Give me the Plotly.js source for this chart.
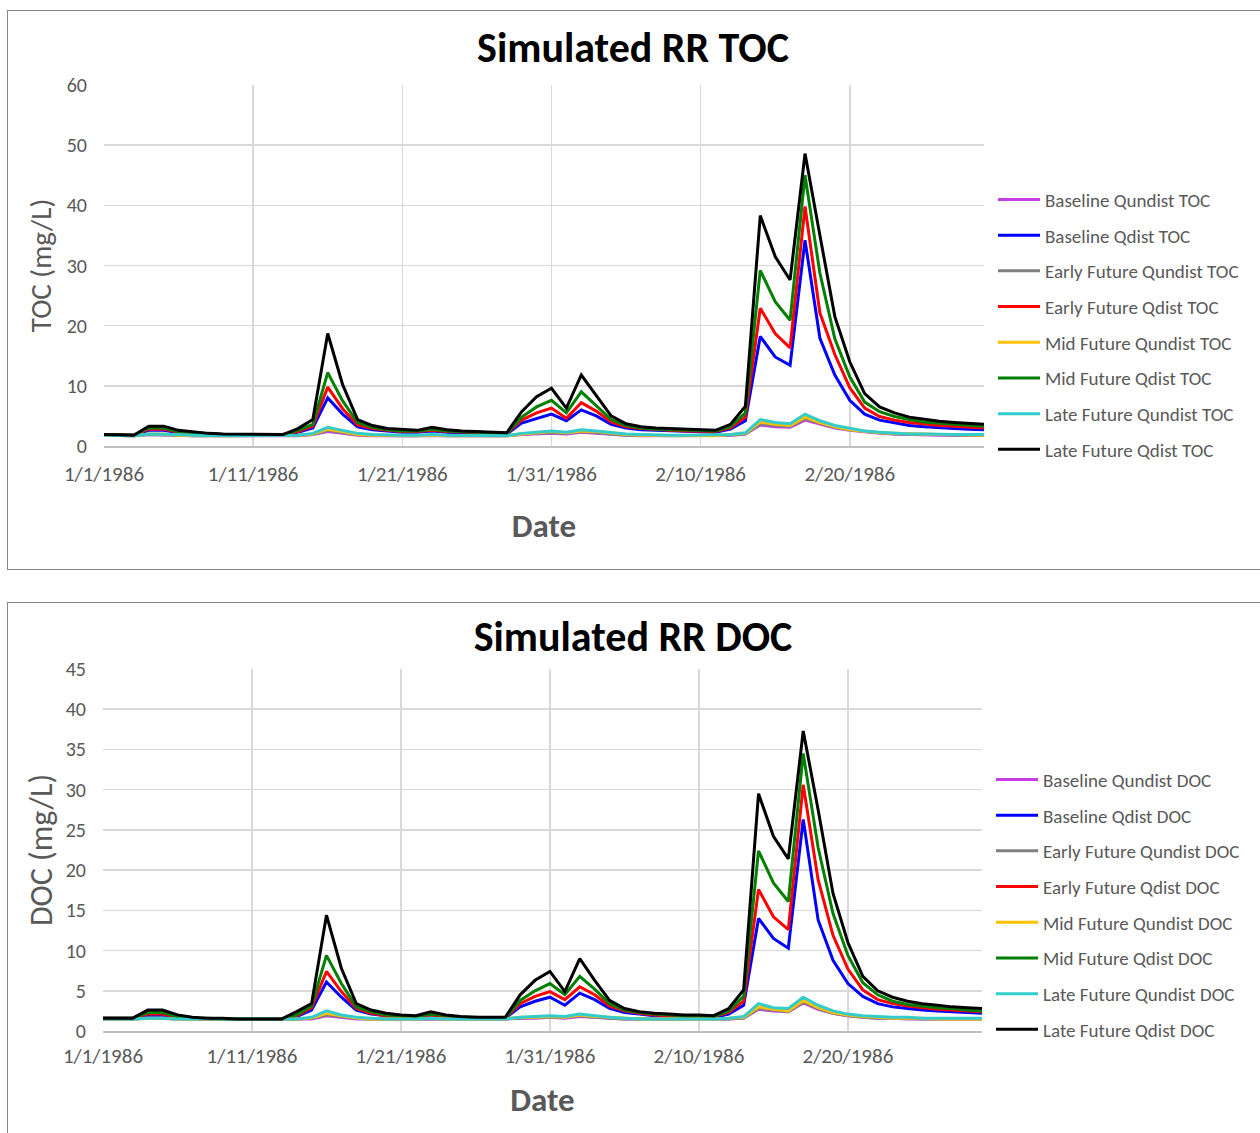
<!DOCTYPE html>
<html>
<head>
<meta charset="utf-8">
<script src="https://cdn.plot.ly/plotly-3.0.1.min.js"></script>
<style>
html,body{margin:0;padding:0;background:#fff;overflow:hidden;width:1260px;height:1133px;}
.box{position:absolute;left:7px;border:1px solid #878787;background:#fff;}
#boxTOC{top:10px;width:1262px;height:558px;}
#boxDOC{top:602px;width:1262px;height:540px;}
.plot{position:absolute;left:0;top:0;}
</style>
</head>
<body>
<div id="boxTOC" class="box"><div id="toc" class="plot"></div></div>
<div id="boxDOC" class="box"><div id="doc" class="plot"></div></div>
<script>
const dates = ["1986-01-01","1986-01-02","1986-01-03","1986-01-04","1986-01-05","1986-01-06","1986-01-07","1986-01-08","1986-01-09","1986-01-10",
"1986-01-11","1986-01-12","1986-01-13","1986-01-14","1986-01-15","1986-01-16","1986-01-17","1986-01-18","1986-01-19","1986-01-20",
"1986-01-21","1986-01-22","1986-01-23","1986-01-24","1986-01-25","1986-01-26","1986-01-27","1986-01-28","1986-01-29","1986-01-30",
"1986-01-31","1986-02-01","1986-02-02","1986-02-03","1986-02-04","1986-02-05","1986-02-06","1986-02-07","1986-02-08","1986-02-09",
"1986-02-10","1986-02-11","1986-02-12","1986-02-13","1986-02-14","1986-02-15","1986-02-16","1986-02-17","1986-02-18","1986-02-19",
"1986-02-20","1986-02-21","1986-02-22","1986-02-23","1986-02-24","1986-02-25","1986-02-26","1986-02-27","1986-02-28","1986-03-01"];

const scenarioNames = ["Baseline Qundist","Baseline Qdist","Early Future Qundist","Early Future Qdist","Mid Future Qundist","Mid Future Qdist","Late Future Qundist","Late Future Qdist"];
const seriesColors = ["#C83CE6","#0000FF","#808080","#FF0000","#FFC000","#008000","#33CCCC","#000000"];

// TOC (mg/L)
const tocBaselineQundist = [1.8,1.7,1.7,1.9,1.9,1.8,1.7,1.7,1.7,1.7,1.7,1.7,1.7,1.7,1.9,2.4,2.1,1.8,1.7,1.7,1.7,1.7,1.8,1.7,1.7,1.7,1.7,1.7,1.9,2.0,2.1,2.0,2.3,2.1,1.9,1.8,1.7,1.7,1.7,1.7,1.7,1.7,1.8,2.0,3.5,3.2,3.1,4.3,3.6,3.0,2.6,2.3,2.1,2.0,1.9,1.9,1.8,1.8,1.8,1.8];
const tocBaselineQdist = [1.9,1.8,1.8,2.6,2.6,2.2,2.0,1.9,1.9,1.9,1.9,1.9,1.9,2.3,3.0,8.0,5.3,3.2,2.7,2.5,2.3,2.3,2.5,2.3,2.2,2.1,2.1,2.0,3.8,4.6,5.3,4.2,6.0,5.0,3.6,3.0,2.7,2.6,2.5,2.4,2.3,2.3,2.8,4.2,18.2,14.8,13.4,34.2,17.9,11.8,7.6,5.3,4.3,3.8,3.4,3.2,3.0,2.9,2.8,2.7];
const tocEarlyQundist = [1.8,1.7,1.7,1.9,1.9,1.8,1.7,1.7,1.7,1.7,1.7,1.7,1.7,1.8,1.9,2.6,2.2,1.9,1.8,1.7,1.7,1.7,1.8,1.7,1.7,1.7,1.7,1.7,2.0,2.1,2.2,2.1,2.4,2.2,2.0,1.8,1.8,1.7,1.7,1.7,1.7,1.7,1.8,2.0,3.7,3.4,3.3,4.5,3.8,3.1,2.7,2.4,2.2,2.0,2.0,1.9,1.9,1.8,1.8,1.8];
const tocEarlyQdist = [1.9,1.8,1.8,2.8,2.8,2.3,2.1,2.0,1.9,1.9,1.9,1.9,1.9,2.4,3.3,9.8,6.2,3.5,2.9,2.6,2.4,2.4,2.6,2.4,2.3,2.2,2.1,2.1,4.3,5.5,6.3,4.6,7.2,5.8,4.0,3.2,2.9,2.7,2.6,2.5,2.4,2.4,3.0,4.8,22.9,18.7,16.3,39.8,22.1,15.2,9.7,6.3,4.9,4.3,3.9,3.6,3.4,3.3,3.1,3.0];
const tocMidQundist = [1.8,1.7,1.7,2.0,2.0,1.8,1.7,1.7,1.7,1.7,1.7,1.7,1.7,1.8,2.0,2.8,2.4,1.9,1.8,1.8,1.7,1.7,1.8,1.8,1.7,1.7,1.7,1.7,2.0,2.2,2.4,2.2,2.5,2.4,2.1,1.9,1.8,1.8,1.7,1.7,1.7,1.7,1.9,2.1,4.0,3.6,3.4,4.8,3.9,3.2,2.7,2.4,2.2,2.1,2.0,1.9,1.9,1.9,1.8,1.8];
const tocMidQdist = [1.9,1.8,1.8,3.0,3.0,2.4,2.2,2.0,1.9,1.9,1.9,1.9,1.9,2.6,3.6,12.2,7.5,3.9,3.1,2.7,2.5,2.5,2.8,2.5,2.4,2.3,2.2,2.1,4.8,6.5,7.6,5.5,9.0,6.7,4.4,3.4,3.0,2.8,2.7,2.6,2.5,2.5,3.2,5.5,29.2,24.0,20.9,45.0,28.7,17.8,11.5,7.3,5.7,4.9,4.4,4.0,3.8,3.6,3.4,3.3];
const tocLateQundist = [1.8,1.7,1.7,2.0,2.0,1.9,1.8,1.7,1.7,1.7,1.7,1.7,1.7,1.8,2.1,3.1,2.6,2.1,1.9,1.8,1.8,1.8,1.9,1.8,1.8,1.7,1.7,1.7,2.1,2.3,2.5,2.3,2.7,2.5,2.2,2.0,1.9,1.8,1.8,1.8,1.8,1.8,1.9,2.2,4.4,3.9,3.7,5.3,4.2,3.4,2.9,2.5,2.3,2.1,2.0,2.0,1.9,1.9,1.9,1.9];
const tocLateQdist = [1.9,1.8,1.8,3.3,3.3,2.6,2.3,2.1,2.0,2.0,1.9,1.9,1.9,2.9,4.4,18.7,10.2,4.4,3.4,2.9,2.7,2.6,3.1,2.7,2.5,2.4,2.3,2.2,5.7,8.2,9.6,6.3,11.8,8.3,5.0,3.7,3.2,3.0,2.9,2.8,2.7,2.6,3.6,6.6,38.3,31.5,27.6,48.6,35.0,21.5,14.0,8.7,6.5,5.5,4.8,4.4,4.1,3.9,3.7,3.6];

// DOC (mg/L)
const docBaselineQundist = [1.5,1.5,1.5,1.6,1.6,1.5,1.5,1.5,1.5,1.5,1.5,1.5,1.5,1.5,1.5,1.9,1.7,1.5,1.5,1.5,1.5,1.5,1.5,1.5,1.5,1.5,1.5,1.5,1.6,1.6,1.7,1.6,1.8,1.7,1.6,1.5,1.5,1.5,1.5,1.5,1.5,1.5,1.5,1.6,2.7,2.5,2.4,3.5,2.7,2.2,1.9,1.7,1.6,1.6,1.5,1.5,1.5,1.5,1.5,1.5];
const docBaselineQdist = [1.6,1.6,1.6,1.9,1.9,1.7,1.6,1.5,1.5,1.5,1.5,1.5,1.5,1.8,2.6,6.1,4.2,2.6,2.1,1.9,1.8,1.7,1.9,1.8,1.7,1.6,1.6,1.6,3.0,3.7,4.2,3.2,4.7,3.9,2.8,2.3,2.1,1.9,1.9,1.8,1.8,1.7,2.1,3.2,14.0,11.5,10.3,26.3,13.8,8.8,5.9,4.3,3.4,3.0,2.8,2.6,2.5,2.4,2.3,2.2];
const docEarlyQundist = [1.5,1.5,1.5,1.6,1.6,1.5,1.5,1.5,1.5,1.5,1.5,1.5,1.5,1.5,1.6,2.0,1.8,1.6,1.5,1.5,1.5,1.5,1.5,1.5,1.5,1.5,1.5,1.5,1.6,1.7,1.7,1.7,1.9,1.7,1.6,1.5,1.5,1.5,1.5,1.5,1.5,1.5,1.5,1.6,2.8,2.6,2.4,3.6,2.8,2.2,1.9,1.7,1.6,1.6,1.6,1.5,1.5,1.5,1.5,1.5];
const docEarlyQdist = [1.6,1.6,1.6,2.1,2.1,1.7,1.6,1.5,1.5,1.5,1.5,1.5,1.5,1.9,2.9,7.4,4.9,2.8,2.2,1.9,1.8,1.8,2.0,1.8,1.7,1.6,1.6,1.6,3.4,4.3,4.9,3.9,5.5,4.5,3.1,2.5,2.2,2.0,1.9,1.9,1.8,1.8,2.3,3.7,17.6,14.2,12.6,30.6,18.8,11.9,7.7,5.1,3.9,3.4,3.1,2.9,2.7,2.6,2.5,2.4];
const docMidQundist = [1.5,1.5,1.5,1.6,1.6,1.5,1.5,1.5,1.5,1.5,1.5,1.5,1.5,1.5,1.6,2.2,1.9,1.6,1.5,1.5,1.5,1.5,1.6,1.5,1.5,1.5,1.5,1.5,1.7,1.7,1.8,1.7,2.0,1.8,1.7,1.6,1.5,1.5,1.5,1.5,1.5,1.5,1.6,1.7,3.0,2.7,2.5,3.8,2.9,2.3,2.0,1.8,1.7,1.6,1.6,1.6,1.5,1.5,1.5,1.5];
const docMidQdist = [1.6,1.6,1.6,2.3,2.3,1.8,1.6,1.6,1.5,1.5,1.5,1.5,1.5,2.0,3.1,9.4,5.9,3.0,2.4,2.0,1.9,1.8,2.1,1.9,1.7,1.7,1.6,1.6,3.8,5.0,5.9,4.5,6.8,5.2,3.4,2.6,2.3,2.1,2.0,1.9,1.9,1.8,2.5,4.3,22.4,18.4,16.1,34.5,22.8,14.6,9.4,6.0,4.5,3.7,3.3,3.1,2.9,2.8,2.6,2.5];
const docLateQundist = [1.5,1.5,1.5,1.6,1.6,1.5,1.5,1.5,1.5,1.5,1.5,1.5,1.5,1.5,1.7,2.5,2.0,1.7,1.6,1.5,1.5,1.5,1.6,1.5,1.5,1.5,1.5,1.5,1.7,1.8,1.9,1.8,2.1,1.9,1.7,1.6,1.5,1.5,1.5,1.5,1.5,1.5,1.6,1.8,3.4,2.9,2.8,4.2,3.2,2.5,2.1,1.9,1.8,1.7,1.7,1.6,1.6,1.6,1.6,1.6];
const docLateQdist = [1.6,1.6,1.6,2.6,2.6,2.0,1.7,1.6,1.6,1.5,1.5,1.5,1.5,2.4,3.4,14.4,7.8,3.4,2.6,2.2,2.0,1.9,2.4,2.0,1.8,1.7,1.7,1.7,4.5,6.3,7.4,4.9,9.0,6.3,3.8,2.8,2.4,2.2,2.1,2.0,2.0,1.9,2.8,5.1,29.5,24.2,21.4,37.3,27.5,17.1,11.0,6.8,5.0,4.2,3.7,3.4,3.2,3.0,2.9,2.8];

const tocSeries = [tocBaselineQundist,tocBaselineQdist,tocEarlyQundist,tocEarlyQdist,tocMidQundist,tocMidQdist,tocLateQundist,tocLateQdist];
const docSeries = [docBaselineQundist,docBaselineQdist,docEarlyQundist,docEarlyQdist,docMidQundist,docMidQdist,docLateQundist,docLateQdist];

const FONT = "Carlito, Lato, 'Open Sans', sans-serif";
const GRAY = "#595959";

function traces(series, suffix){
  return series.map((ys,i)=>({
    type:'scatter', mode:'lines', x:dates, y:ys,
    name: scenarioNames[i] + ' ' + suffix,
    legendgroup: 'g'+i,
    line:{color:seriesColors[i], width:3},
    hoverinfo:'x+y+name'
  }));
}

function layout(opts){
  return {
    width:1260, height:opts.height,
    margin:{l:opts.l, r:opts.r, t:opts.t, b:opts.b, pad:0},
    paper_bgcolor:'#fff', plot_bgcolor:'#fff',
    font:{family:FONT, color:GRAY},
    title:{text:opts.title, font:{family:FONT, size:42, color:'#000', weight:'bold'},
      xref:'container', x:opts.titleX, xanchor:'center', yref:'container', y:opts.titleY, yanchor:'middle'},
    showlegend:true,
    legend:{x:opts.legX, xanchor:'left', y:opts.legY, yanchor:'top', traceorder:'grouped', tracegroupgap:opts.gap,
      font:{family:FONT, size:19, color:GRAY}, bgcolor:'rgba(0,0,0,0)', borderwidth:0, itemwidth:42},
    xaxis:{type:'date', range:[dates[0], dates[dates.length-1]], tick0:dates[0], dtick:864000000,
      tickformat:'%-m/%-d/%Y', showgrid:true, gridcolor:'#d9d9d9', gridwidth:1.5,
      showline:true, linecolor:'#bfbfbf', linewidth:1.5, zeroline:false, ticks:'', ticklabelstandoff:opts.xstand,
      tickfont:{family:FONT, size:21, color:GRAY},
      title:{text:'Date', font:{family:FONT, size:33, color:GRAY, weight:'bold'}, standoff:opts.xtitleStand}},
    yaxis:{range:[0,opts.ymax], dtick:opts.ydtick, showgrid:true, gridcolor:'#d9d9d9', gridwidth:1.5,
      showline:false, zeroline:false, ticks:'', ticklabelstandoff:16,
      tickfont:{family:FONT, size:20, color:GRAY},
      title:{text:opts.ytitle, font:{family:FONT, size:opts.ytitleSize, color:GRAY}, standoff:opts.ytitleStand}}
  };
}

const cfg = {displayModeBar:false, staticPlot:true};

Plotly.newPlot('toc', traces(tocSeries,'TOC'), layout({
  height:558, l:96, r:284, t:74, b:123, title:'Simulated RR TOC', titleX:625/1260, titleY:1-36/558,
  legX:(993-104)/880, legY:(446-180.6)/361, gap:8, ymax:60, ydtick:10, ytitle:'TOC (mg/L)', ytitleSize:29,
  xstand:8, xtitleStand:28, ytitleStand:6
}), cfg);

Plotly.newPlot('doc', traces(docSeries,'DOC'), layout({
  height:540, l:95, r:286, t:66, b:112, title:'Simulated RR DOC', titleX:625/1260, titleY:1-33/540,
  legX:(991-103)/879, legY:(1031-760.6)/362, gap:8, ymax:45, ydtick:5, ytitle:'DOC (mg/L)', ytitleSize:32,
  xstand:5, xtitleStand:20, ytitleStand:3
}), cfg);
</script>
</body>
</html>
